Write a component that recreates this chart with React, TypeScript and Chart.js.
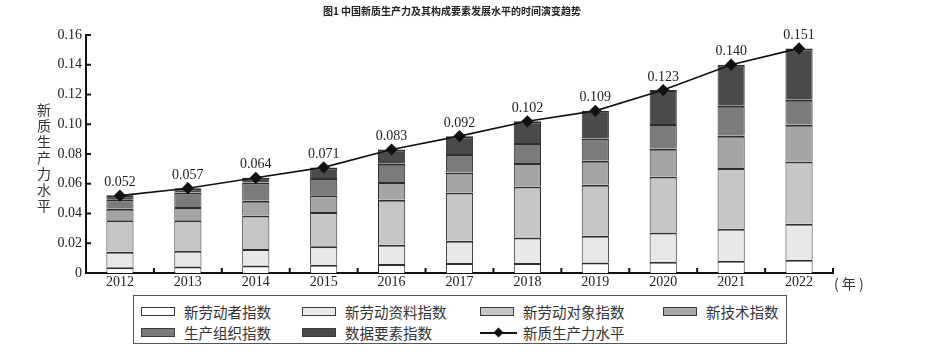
import React, { useEffect, useRef } from 'react';
import { Chart, registerables } from 'chart.js';

Chart.register(...registerables);

const years = ['2012', '2013', '2014', '2015', '2016', '2017', '2018', '2019', '2020', '2021', '2022'];
const workers = [0.0038, 0.0044, 0.0051, 0.0056, 0.0061, 0.0067, 0.0067, 0.0071, 0.0076, 0.0083, 0.0089];
const materials = [0.0105, 0.0106, 0.011, 0.0123, 0.0129, 0.015, 0.0172, 0.018, 0.0197, 0.0215, 0.0242];
const objects = [0.0211, 0.0204, 0.0226, 0.0231, 0.0303, 0.0325, 0.0343, 0.0343, 0.0376, 0.0408, 0.0419];
const technology = [0.0078, 0.009, 0.0099, 0.0112, 0.0119, 0.0134, 0.0157, 0.0161, 0.0187, 0.0217, 0.0247];
const organization = [0.0063, 0.0098, 0.0123, 0.0117, 0.0123, 0.0124, 0.0135, 0.015, 0.0166, 0.0202, 0.0168];
const dataElements = [0.0027, 0.0028, 0.0031, 0.0071, 0.0095, 0.012, 0.0146, 0.0185, 0.0228, 0.0275, 0.0345];
const level = [0.052, 0.057, 0.064, 0.071, 0.083, 0.092, 0.102, 0.109, 0.123, 0.14, 0.151];
const yTicks = [0, 0.02, 0.04, 0.06, 0.08, 0.1, 0.12, 0.14, 0.16];

const seriesNames = ['新劳动者指数', '新劳动资料指数', '新劳动对象指数', '新技术指数', '生产组织指数', '数据要素指数'];
const lineName = '新质生产力水平';
const titleText = '图1 中国新质生产力及其构成要素发展水平的时间演变趋势';
const yTitle = '新质生产力水平';
const xUnit = '( 年 )';

const barColors = ['#ffffff', '#e8e8e8', '#c6c6c6', '#a5a5a5', '#7b7b7b', '#4a4a4a'];
const barSeries = [workers, materials, objects, technology, organization, dataElements];

const SERIF = '"Liberation Serif", "DejaVu Serif", serif';
const CJK = '"Noto Sans CJK SC", "Noto Sans", sans-serif';

const extrasPlugin = {
  id: 'extras',
  afterDraw(chart: any) {
    const { ctx, chartArea, scales } = chart;
    const x = scales.x;
    const y = scales.y;
    ctx.save();
    ctx.strokeStyle = '#111';
    ctx.lineWidth = 2;
    yTicks.forEach((v) => {
      const py = y.getPixelForValue(v);
      ctx.beginPath();
      ctx.moveTo(chartArea.left, py);
      ctx.lineTo(chartArea.left + 5, py);
      ctx.stroke();
    });
    const n = years.length;
    for (let k = 1; k <= n; k++) {
      const px = x.left + ((x.right - x.left) * k) / n;
      ctx.beginPath();
      ctx.moveTo(px, chartArea.bottom);
      ctx.lineTo(px, chartArea.bottom - 5);
      ctx.stroke();
    }
    const lineIndex = chart.data.datasets.length - 1;
    const meta = chart.getDatasetMeta(lineIndex);
    ctx.fillStyle = '#222';
    ctx.font = `14px ${SERIF}`;
    ctx.textAlign = 'center';
    ctx.textBaseline = 'alphabetic';
    meta.data.forEach((pt: any, i: number) => {
      ctx.fillText(level[i].toFixed(3), pt.x, pt.y - 9.5);
    });
    ctx.restore();
  },
};

const legendCols = [8, 169, 347, 530];
const legendRows = [16.7, 37.7];

export default function App() {
  const ref = useRef<HTMLCanvasElement>(null);

  useEffect(() => {
    document.body.style.margin = '0';
    const canvas = ref.current;
    if (!canvas) return;
    const datasets: any[] = barSeries.map((arr, i) => ({
      type: 'bar',
      label: seriesNames[i],
      data: arr,
      backgroundColor: barColors[i],
      borderColor: '#2e2e2e',
      borderWidth: { top: 2, bottom: 0, left: 1, right: 1 },
      borderSkipped: false,
      barPercentage: 0.4,
      categoryPercentage: 1,
      stack: 'bars',
      order: 2,
    }));
    datasets.push({
      type: 'line',
      label: lineName,
      data: level,
      borderColor: '#111',
      backgroundColor: '#111',
      borderWidth: 1.6,
      pointStyle: 'rectRot',
      pointRadius: 5,
      pointBackgroundColor: '#111',
      pointBorderColor: '#111',
      tension: 0,
      stack: 'line',
      order: 0,
    });
    const chart = new Chart(canvas, {
      type: 'bar',
      data: { labels: years, datasets },
      options: {
        responsive: false,
        animation: false,
        layout: { padding: { top: 35, right: 97, left: 0, bottom: 0 } },
        plugins: {
          legend: { display: false },
          title: { display: false },
          tooltip: { enabled: false },
        },
        scales: {
          x: {
            stacked: true,
            offset: true,
            grid: { display: false, drawTicks: false },
            border: { display: true, color: '#111', width: 2 },
            ticks: { color: '#222', font: { family: SERIF, size: 14 }, padding: 1, maxRotation: 0 },
            afterFit: (s: any) => {
              s.height = 85;
            },
          },
          y: {
            stacked: true,
            min: 0,
            max: 0.16,
            grid: { display: false, drawTicks: false },
            border: { display: true, color: '#111', width: 2 },
            ticks: {
              stepSize: 0.02,
              color: '#222',
              padding: 4,
              font: { family: SERIF, size: 14 },
              callback: (v: any) => (Number(v) === 0 ? '0' : Number(v).toFixed(2)),
            },
            afterFit: (s: any) => {
              s.width = 86;
            },
          },
        },
      } as any,
      plugins: [extrasPlugin],
    });
    return () => chart.destroy();
  }, []);

  const legendEntries = [
    ...seriesNames.map((name, i) => ({ name, color: barColors[i], line: false })),
    { name: lineName, color: '#111', line: true },
  ];

  return (
    <div style={{ position: 'relative', width: 930, height: 358, background: '#fff' }}>
      <canvas ref={ref} width={930} height={358} style={{ display: 'block' }} />
      <div
        style={{
          position: 'absolute',
          left: 452,
          top: 3,
          transform: 'translateX(-50%)',
          font: `bold 10px ${CJK}`,
          color: '#222',
          whiteSpace: 'nowrap',
        }}
      >
        {titleText}
      </div>
      <div
        style={{
          position: 'absolute',
          left: 37,
          top: 103,
          writingMode: 'vertical-rl',
          font: `14px ${CJK}`,
          lineHeight: '14px',
          letterSpacing: '2px',
          color: '#333',
        }}
      >
        {yTitle}
      </div>
      <div
        style={{
          position: 'absolute',
          left: 834,
          top: 273,
          font: `14px ${CJK}`,
          color: '#333',
          whiteSpace: 'pre',
        }}
      >
        {xUnit}
      </div>
      <div
        style={{
          position: 'absolute',
          left: 133,
          top: 295,
          width: 654,
          height: 49,
          boxSizing: 'border-box',
          border: '1px solid #555',
          background: '#fff',
        }}
      >
        {legendEntries.map((e, i) => {
          const col = i < 4 ? i : i - 4;
          const row = i < 4 ? 0 : 1;
          return (
            <div
              key={e.name}
              style={{
                position: 'absolute',
                left: legendCols[col] - 1,
                top: legendRows[row] - 1 - 10,
                height: 20,
                display: 'flex',
                alignItems: 'center',
                whiteSpace: 'nowrap',
              }}
            >
              {e.line ? (
                <div style={{ position: 'relative', width: 37, height: 10 }}>
                  <div style={{ position: 'absolute', left: 0, top: 4, width: 37, height: 2, background: '#111' }} />
                  <div
                    style={{
                      position: 'absolute',
                      left: 14.5,
                      top: 1,
                      width: 7,
                      height: 7,
                      background: '#111',
                      transform: 'rotate(45deg)',
                    }}
                  />
                </div>
              ) : (
                <div
                  style={{
                    width: 34,
                    height: 9,
                    boxSizing: 'border-box',
                    border: '1px solid #3a3a3a',
                    background: e.color,
                  }}
                />
              )}
              <span style={{ marginLeft: e.line ? 6 : 9, font: `14.5px ${CJK}`, color: '#333' }}>{e.name}</span>
            </div>
          );
        })}
      </div>
    </div>
  );
}
